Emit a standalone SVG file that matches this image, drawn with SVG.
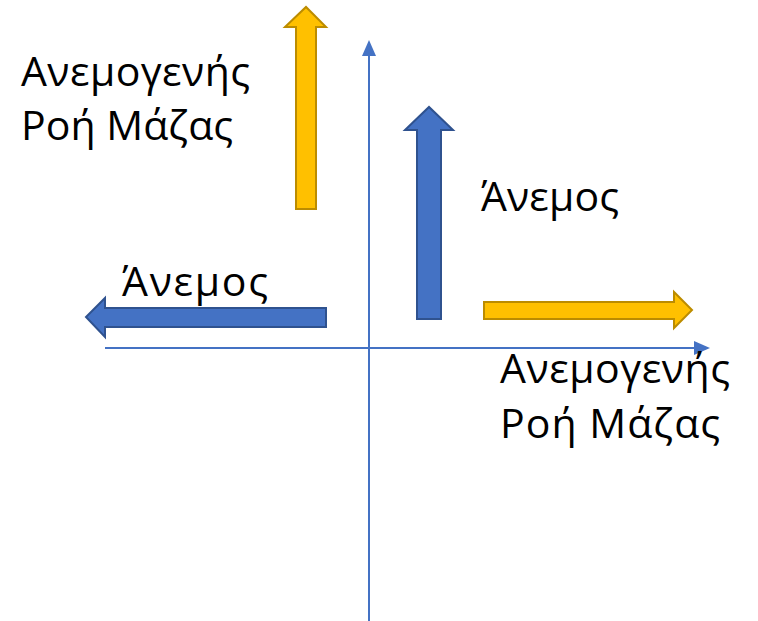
<svg xmlns="http://www.w3.org/2000/svg" width="758" height="621" viewBox="0 0 758 621">
  <style>
    .lbl { font-family: "Open Sans", "Noto Sans", "DejaVu Sans", sans-serif; fill: #000; }
    .big { font-size: 41px; }
    .mid { font-size: 41px; }
    .axis { stroke: #4472C4; stroke-width: 2; fill: none; }
    .wind { fill: #4472C4; stroke: #2F528F; stroke-width: 2; stroke-linejoin: miter; }
    .flow { fill: #FFC000; stroke: #BC8C00; stroke-width: 2; stroke-linejoin: miter; }
  </style>
  <defs>
    <marker id="axisHead" markerUnits="userSpaceOnUse" markerWidth="16" markerHeight="16" refX="2" refY="8" orient="auto" viewBox="0 0 16 16">
      <path d="M0,1 L16,8 L0,15 Z" fill="#4472C4"/>
    </marker>
  </defs>

  <rect width="758" height="621" fill="#ffffff"/>

  <g id="connectors">
    <line class="axis" x1="105" y1="348" x2="696" y2="348" marker-end="url(#axisHead)"/>
    <line class="axis" x1="369" y1="621" x2="369" y2="54" marker-end="url(#axisHead)"/>
  </g>

  <!-- mass flow upward (yellow) -->
  <g id="flow-up">
    <path class="flow" d="M296,209 L316,209 L316,27 L326,27 L306,7 L285,27 L296,27 Z"/>
  </g>

  <!-- wind upward (blue) -->
  <g id="wind-up">
    <path class="wind" d="M417,319 L441,319 L441,130 L453,130 L429,107 L405,130 L417,130 Z"/>
  </g>

  <!-- wind leftward (blue) -->
  <g id="wind-left">
    <path class="wind" d="M326,308 L326,327 L105,327 L105,337 L86,317 L105,298 L105,308 Z"/>
  </g>

  <!-- mass flow rightward (yellow) -->
  <g id="flow-right">
    <path class="flow" d="M484,302 L674,302 L674,292 L692,310 L674,328 L674,319 L484,319 Z"/>
  </g>

  <g id="label-flow-up">
    <text class="lbl big" x="21" y="86" textLength="229">Ανεμογενής</text>
    <text class="lbl big" x="21" y="140" textLength="212">Ροή Μάζας</text>
  </g>
  <g id="label-wind-up">
    <text class="lbl mid" x="481" y="211" textLength="138">Άνεμος</text>
  </g>
  <g id="label-wind-left">
    <text class="lbl mid" x="122" y="296" textLength="146">Άνεμος</text>
  </g>
  <g id="label-flow-right">
    <text class="lbl big" x="500" y="383" textLength="230">Ανεμογενής</text>
    <text class="lbl big" x="500" y="438" textLength="220">Ροή Μάζας</text>
  </g>
</svg>
